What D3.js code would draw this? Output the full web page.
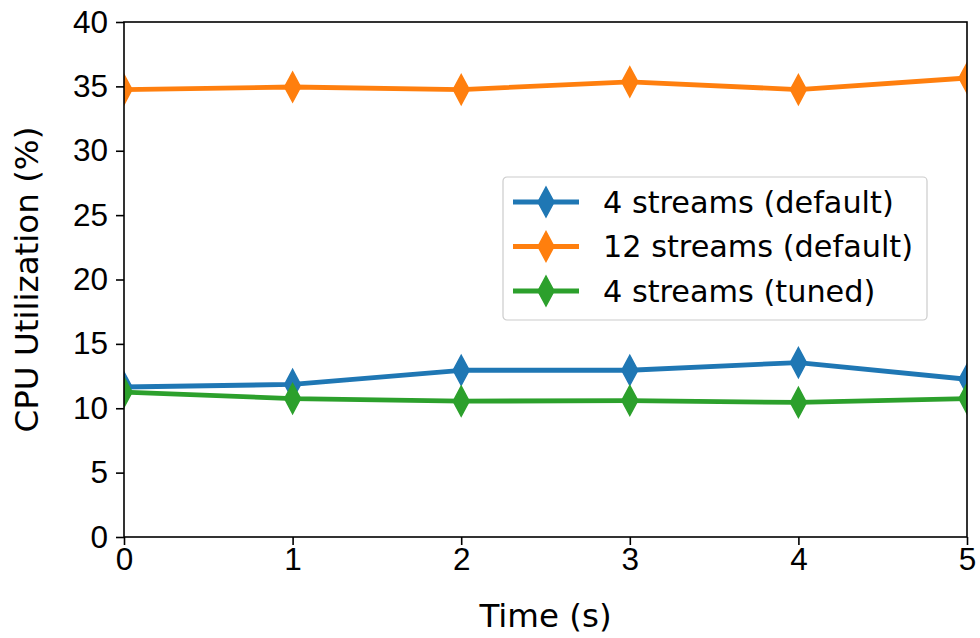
<!DOCTYPE html>
<html>
<head>
<meta charset="utf-8">
<script src="https://cdn.jsdelivr.net/npm/d3@7"></script>
<style>
  html, body { margin: 0; padding: 0; background: #fff; }
  svg { display: block; font-family: "DejaVu Sans", sans-serif; }
</style>
</head>
<body>
<svg id="chart" width="980" height="638"></svg>
<script>
// Sample times (s)
const times = [0, 1, 2, 3, 4, 5];
// CPU utilization (%) per configuration
const seriesNames = ["4 streams (default)", "12 streams (default)", "4 streams (tuned)"];
const seriesColors = ["#1f77b4", "#ff7f0e", "#2ca02c"];
const fourDefault = [11.65, 11.85, 12.95, 12.95, 13.55, 12.25];
const twelveDefault = [34.75, 34.95, 34.75, 35.35, 34.75, 35.65];
const fourTuned = [11.25, 10.75, 10.55, 10.6, 10.45, 10.75];
const yTicks = [0, 5, 10, 15, 20, 25, 30, 35, 40];
const xTicks = [0, 1, 2, 3, 4, 5];

const series = [fourDefault, twelveDefault, fourTuned].map((vals, i) => ({
  name: seriesNames[i],
  color: seriesColors[i],
  values: vals.map((v, j) => ({ t: times[j], v }))
}));

const svg = d3.select("#chart");
const margin = { left: 124, right: 13, top: 22, bottom: 101 };
const width = 980 - margin.left - margin.right;
const height = 638 - margin.top - margin.bottom;

const x = d3.scaleLinear().domain([0, 5]).range([0, width]);
const y = d3.scaleLinear().domain([0, 40]).range([height, 0]);

const g = svg.append("g").attr("transform", `translate(${margin.left},${margin.top})`);

g.append("defs").append("clipPath").attr("id", "plot-clip")
  .append("rect").attr("width", width).attr("height", height);

// Thin diamond marker
const diamond = (hw, hh) => `M0,${-hh}L${hw},0L0,${hh}L${-hw},0Z`;

const plot = g.append("g").attr("clip-path", "url(#plot-clip)");
const line = d3.line().x(d => x(d.t)).y(d => y(d.v));

series.forEach(s => {
  plot.append("path")
    .datum(s.values)
    .attr("fill", "none")
    .attr("stroke", s.color)
    .attr("stroke-width", 4.8)
    .attr("stroke-linejoin", "round")
    .attr("d", line);
  plot.selectAll(null)
    .data(s.values)
    .enter().append("path")
    .attr("transform", d => `translate(${x(d.t)},${y(d.v)})`)
    .attr("d", diamond(8, 15))
    .attr("fill", s.color)
    .attr("stroke", s.color)
    .attr("stroke-width", 1.5)
    .attr("stroke-linejoin", "miter");
});

// Axes
const xAxis = g.append("g").attr("transform", `translate(0,${height})`)
  .call(d3.axisBottom(x).tickValues(xTicks).tickFormat(d3.format("d")).tickSize(8).tickPadding(4));
const yAxis = g.append("g")
  .call(d3.axisLeft(y).tickValues(yTicks).tickFormat(d3.format("d")).tickSize(8).tickPadding(8));

[xAxis, yAxis].forEach(a => {
  a.select(".domain").remove();
  a.selectAll(".tick line").attr("stroke", "#000").attr("stroke-width", 1.6);
  a.selectAll(".tick text").attr("fill", "#000").style("font-size", "31.5px");
});
xAxis.selectAll(".tick text").attr("dy", "0.67em");

// Frame
g.append("rect")
  .attr("width", width).attr("height", height)
  .attr("fill", "none").attr("stroke", "#000").attr("stroke-width", 1.6);

// Axis titles
svg.append("text")
  .attr("x", margin.left + width / 2).attr("y", 627)
  .attr("text-anchor", "middle").style("font-size", "32.5px")
  .text("Time (s)");
svg.append("text")
  .attr("transform", `translate(38,${margin.top + height / 2}) rotate(-90)`)
  .attr("text-anchor", "middle").style("font-size", "32.5px")
  .text("CPU Utilization (%)");

// Legend
const legend = svg.append("g").attr("transform", "translate(503,177)");
legend.append("rect")
  .attr("width", 424).attr("height", 143).attr("rx", 4)
  .attr("fill", "#fff").attr("fill-opacity", 0.8)
  .attr("stroke", "#ccc").attr("stroke-width", 1.2);
series.forEach((s, i) => {
  const row = legend.append("g").attr("transform", `translate(0,${25 + i * 44.5})`);
  row.append("line").attr("x1", 10).attr("x2", 76)
    .attr("stroke", s.color).attr("stroke-width", 4.8);
  row.append("path").attr("transform", "translate(43,0)")
    .attr("d", diamond(8, 15))
    .attr("fill", s.color).attr("stroke", s.color).attr("stroke-width", 1.5);
  row.append("text").attr("x", 100).attr("dy", "0.35em")
    .style("font-size", "30.3px").attr("fill", "#000")
    .text(s.name);
});
</script>
</body>
</html>
